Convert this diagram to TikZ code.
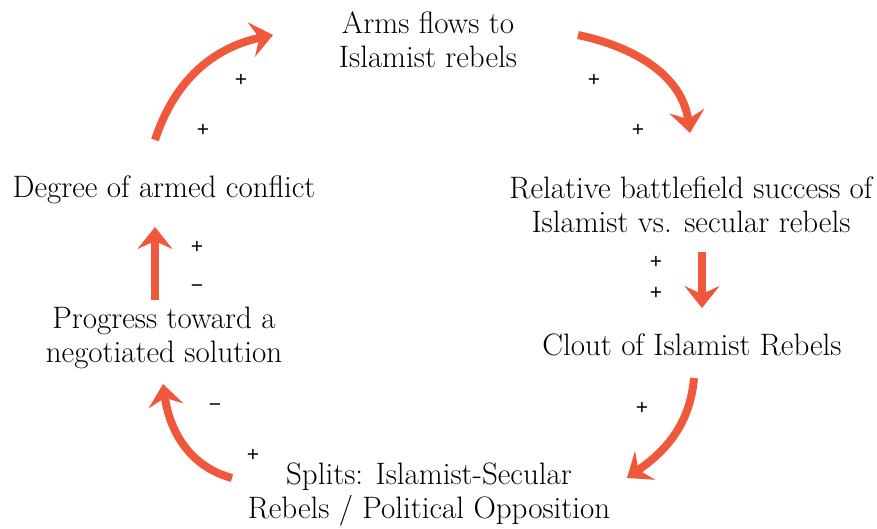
\documentclass[tikz,border=0pt]{standalone}
\usepackage{fontspec}
\usetikzlibrary{arrows.meta}
\newfontfamily\signfont{Liberation Sans}
\definecolor{loopred}{RGB}{240,88,60}
\tikzset{
  var/.style={align=center, inner sep=0pt, font=\fontsize{31}{34}\selectfont},
  link/.style={line width=8pt, draw=loopred, -{Stealth[length=22pt,width=35pt,inset=8pt]}},
  sign/.style={inner sep=0pt, font=\signfont\fontsize{21}{22}\selectfont}
}

\begin{document}
\begin{tikzpicture}[x=1pt,y=1pt]
	\useasboundingbox (0,0) rectangle (877,528);
	
	\node[var] (arms) at (428,488) {Arms flows to\\Islamist rebels};
	\node[var] (rel) at (691,323) {Relative battlefield success of\\Islamist vs. secular rebels};
	\node[var] (clout) at (692,183) {Clout of Islamist Rebels};
	\node[var] (splits) at (429,33) {Splits: Islamist-Secular\\Rebels / Political Opposition};
	\node[var] (prog) at (164,190) {Progress toward a\\negotiated solution};
	\node[var] (deg) at (164,338) {Degree of armed conflict};
	
	\draw[link] ([shift={(-9,50)}]deg.center) to[out=72,in=192] ([shift={(-155,5)}]arms.center);
	\draw[link] ([shift={(150,5)}]arms.center) to[out=-12,in=98] ([shift={(-1,72)}]rel.center);
	\draw[link] ([shift={(11,-47)}]rel.center) -- ([shift={(10,37)}]clout.center);
	\draw[link] ([shift={(2,-33)}]clout.center) to[out=-95,in=35] ([shift={(198,17)}]splits.center);
	\draw[link] ([shift={(-197,17)}]splits.center) to[out=165,in=-82] ([shift={(-1,-46)}]prog.center);
	\draw[link] ([shift={(-9,38)}]prog.center) -- ([shift={(-9,-37)}]deg.center);
	
	\node[sign] (s1a) at (241,448) {+};
	\node[sign] (s1b) at (203,398) {+};
	\node[sign] (s2a) at (594,448) {+};
	\node[sign] (s2b) at (638,398) {+};
	\node[sign] (s3a) at (656,266) {+};
	\node[sign] (s3b) at (656,235) {+};
	\node[sign] (s4a) at (642,120) {+};
	\node[sign] (s5a) at (215,120) {−};
	\node[sign] (s5b) at (253,73) {+};
	\node[sign] (s6a) at (197,281) {+};
	\node[sign] (s6b) at (197,239) {−};
\end{tikzpicture}
\end{document}
